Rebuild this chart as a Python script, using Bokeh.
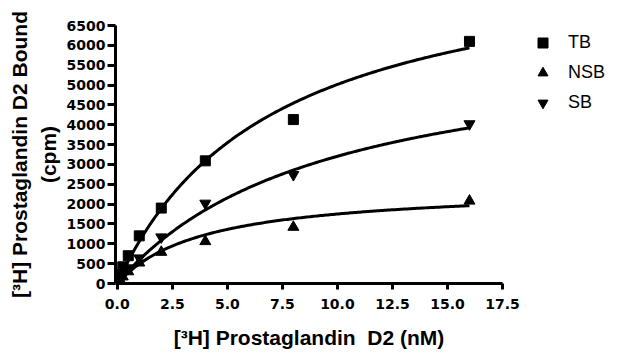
import numpy as np
from bokeh.plotting import figure
from bokeh.models import Legend, LegendItem, Range1d, FixedTicker, NumeralTickFormatter
from bokeh.embed import file_html
from bokeh.resources import INLINE

# Data (concentration in nM, bound in cpm)
conc = [0.125, 0.25, 0.5, 1, 2, 4, 8, 16]
tb = [220, 420, 700, 1200, 1900, 3090, 4130, 6100]
nsb = [90, 170, 300, 520, 790, 1060, 1420, 2080]
sb = [120, 230, 390, 640, 1170, 2020, 2740, 4020]

# One-site saturation fit parameters (Bmax, Kd) for each series
tb_bmax, tb_kd = 8560, 7.07
nsb_bmax, nsb_kd = 2446, 3.97
sb_bmax, sb_kd = 6250, 9.5

x_ticks = [0, 2.5, 5, 7.5, 10, 12.5, 15, 17.5]
y_ticks = list(range(0, 6501, 500))

p = figure(frame_width=387, frame_height=258,
           x_range=Range1d(-0.08, 17.5), y_range=Range1d(0, 6500),
           output_backend="svg", toolbar_location=None,
           min_border_left=115, min_border_top=25, min_border_right=110, min_border_bottom=68)
p.outline_line_color = None
p.xgrid.visible = False
p.ygrid.visible = False
p.background_fill_color = "white"

xs = np.linspace(0, max(conc), 200)
for bmax, kd in [(tb_bmax, tb_kd), (nsb_bmax, nsb_kd), (sb_bmax, sb_kd)]:
    p.line(xs, bmax * xs / (kd + xs), line_color="black", line_width=3)

r_tb = p.scatter(conc, tb, marker="square", size=10, color="black")
r_nsb = p.scatter(conc, nsb, marker="triangle", size=11, color="black")
r_sb = p.scatter(conc, sb, marker="inverted_triangle", size=11, color="black")

for ax in (p.xaxis[0], p.yaxis[0]):
    ax.axis_line_width = 3
    ax.major_tick_line_width = 3
    ax.minor_tick_line_color = None
    ax.major_tick_in = 0
    ax.major_label_text_font = "DejaVu Sans"
    ax.major_label_text_font_style = "bold"
    ax.major_label_text_font_size = "14px"
    ax.major_label_text_color = "black"
    ax.axis_label_text_font = "Liberation Sans"
    ax.axis_label_text_font_style = "bold"
    ax.axis_label_text_font_size = "21px"
    ax.axis_label_text_color = "black"

p.xaxis.ticker = FixedTicker(ticks=x_ticks)
p.xaxis.formatter = NumeralTickFormatter(format="0.0")
p.xaxis.major_tick_out = 6
p.xaxis.major_label_standoff = 9
p.xaxis.axis_label = "[³H] Prostaglandin \u00a0D2 (nM)"
p.xaxis.axis_label_standoff = 14

p.yaxis.ticker = FixedTicker(ticks=y_ticks)
p.yaxis.major_tick_out = 8
p.yaxis.major_label_standoff = 2
p.yaxis.axis_label = "[³H] Prostaglandin D2 Bound\n(cpm)"
p.yaxis.axis_label_standoff = 4
p.yaxis.axis_label_text_line_height = 1.25

legend = Legend(items=[LegendItem(label="TB", renderers=[r_tb]),
                       LegendItem(label="NSB", renderers=[r_nsb]),
                       LegendItem(label="SB", renderers=[r_sb])],
                location=(28, 168), border_line_color=None, background_fill_alpha=0,
                label_text_font="Liberation Sans", label_text_font_size="18px",
                label_text_color="black",
                glyph_width=25, glyph_height=25, label_height=25, spacing=5,
                label_standoff=13, padding=5, margin=0)
p.add_layout(legend, "right")

open("out.html", "w").write(file_html(p, INLINE))
